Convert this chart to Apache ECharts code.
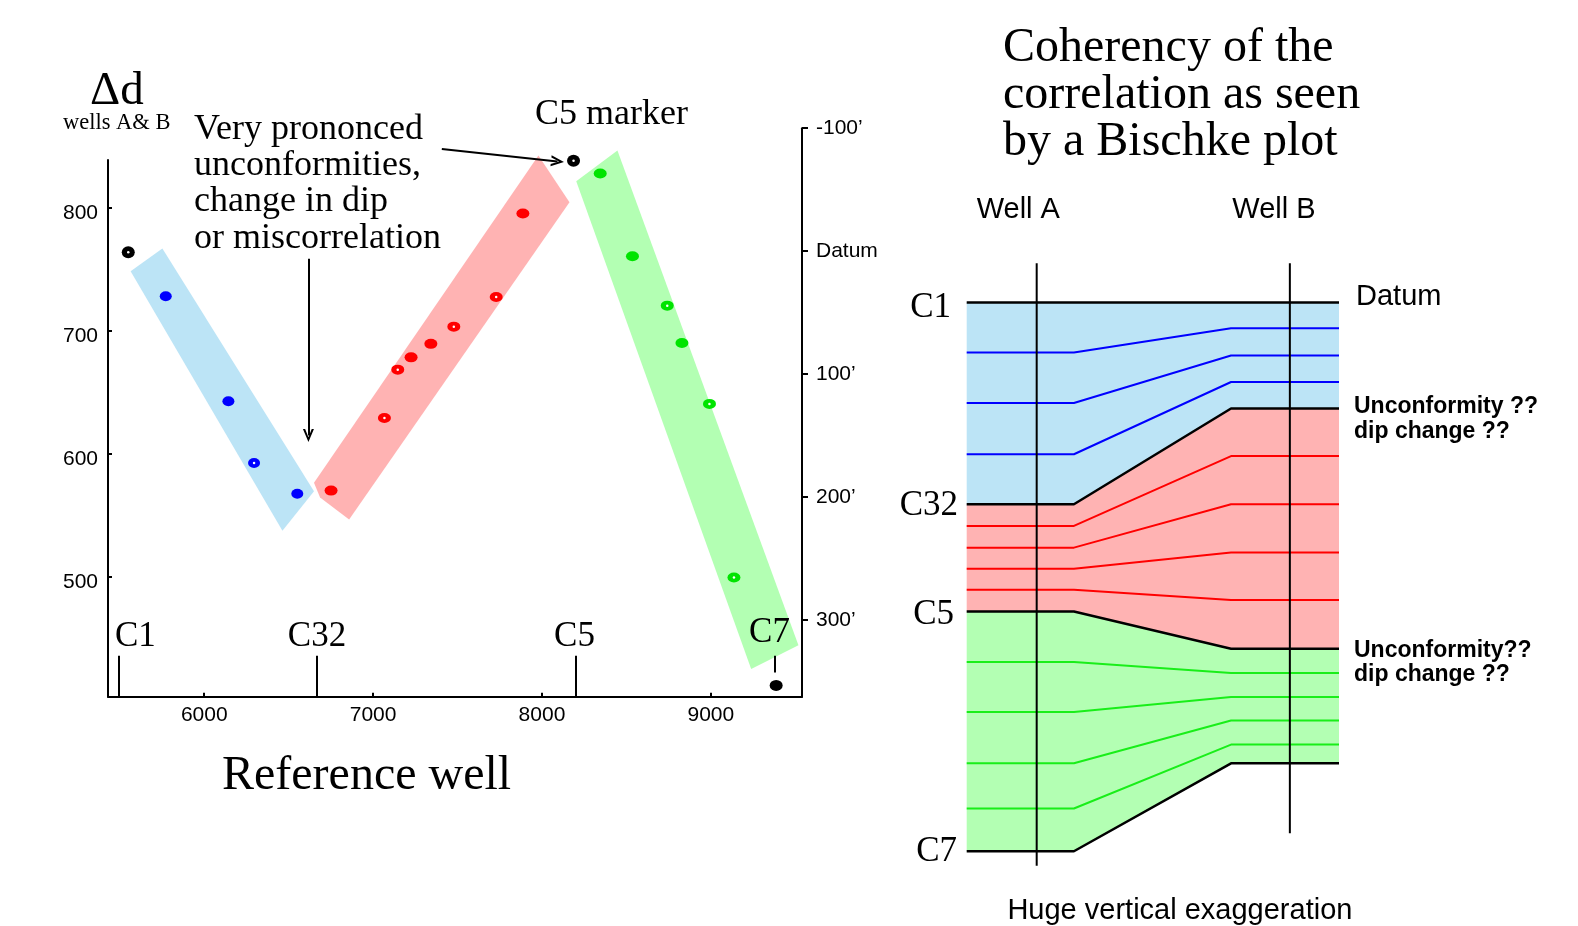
<!DOCTYPE html>
<html><head><meta charset="utf-8">
<script src="https://cdn.jsdelivr.net/npm/echarts@6/dist/echarts.min.js"></script>
<style>html,body{margin:0;padding:0;background:#fff}#c{width:1578px;height:926px}</style>
</head><body><div id="c"></div>
<script>
// ---------- Left panel: Bischke plot (reference well depth vs delta-d) ----------
const blueX  = [5772, 6143, 6295, 6551];
const blueY  = [728, 642.5, 592.3, 567.3];
const redX   = [6751, 7067, 7146, 7225, 7342, 7478, 7729, 7887];
const redY   = [569.8, 629, 668.3, 678.3, 689.3, 703.3, 727.5, 795.4];
const greenX = [8345, 8536, 8742, 8829, 8992, 9137];
const greenY = [828, 760.6, 720.4, 690, 640.4, 499];
// points drawn as rings (hollow centre) in the original
const blueRinged  = [2];
const redRinged   = [1, 2, 5, 6];
const greenRinged = [2, 4, 5];
const ringMarkerX = [5550, 8187];      // C1, C5 marker points
const ringMarkerY = [763.8, 838.3];
const c7PointX = [9387];
const c7PointY = [411.2];
const markerNames  = ['C1', 'C32', 'C5', 'C7'];
const markerX      = [5495, 6666, 8201, 9381];
const markerTop    = [435.4, 435.4, 435.4, 435.4];
const markerBottom = [402, 402, 402, 421.8];
const blueBand  = [[5564, 748.4], [5752, 766.9], [6650, 569.2], [6463, 537.2]];
const redBand   = [[6650, 576.3], [6686, 564.1], [6858, 546.2], [8163, 804.6], [7979, 842.6]];
const greenBand = [[8203, 821.7], [8447, 846.7], [9519, 443.8], [9239, 424.6]];
const arrowDown = [[6617, 758.7], [6617, 614.6]];
const arrowC5   = [[7407, 848], [8092, 837.9]];
const xTicks = [6000, 7000, 8000, 9000];
const yTicks = [500, 600, 700, 800];
const rightTicks = [-100, 0, 100, 200, 300];
const rightTickLabels = ['-100\u2019', 'Datum', '100\u2019', '200\u2019', '300\u2019'];

// ---------- Right panel: schematic correlation Well A / Well B ----------
const sectionX = [0, 28.8, 71, 100];
const horizonNames = ['C1','b1','b2','b3','C32','r1','r2','r3','r4','C5','g1','g2','g3','g4','C7'];
const horizonUnit  = ['top','blue','blue','blue','top','red','red','red','red','top','green','green','green','green','top'];
const horizonA = [6.5, 14.8, 23.2, 31.7, 40.0, 43.6, 47.2, 50.7, 54.2, 57.8, 66.2, 74.5, 83.0, 90.5, 97.6];
const horizonB = [6.5, 10.8, 15.3, 19.7, 24.1, 32.0, 40.0, 48.0, 55.9, 64.0, 68.0, 72.0, 75.9, 79.9, 83.0];
const wellNames = ['Well A', 'Well B'];
const wellX = [18.8, 86.8];
const wellBottom = [100, 94.6];

const SERIF = "'Liberation Serif','Times New Roman',serif";
const SANS = "'Liberation Sans',Arial,sans-serif";
const lineColor = {top: '#000000', blue: '#0000FF', red: '#FF0000', green: '#19EE19'};

const zip = (xs, ys) => xs.map((x, i) => [x, ys[i]]);
const pick = (xs, ys, idx) => idx.map(i => [xs[i], ys[i]]);
const horizonPts = i => sectionX.map((x, k) => [x, k < 2 ? horizonA[i] : horizonB[i]]);

function polyRenderer(polys, fills) {
  return function (params, api) {
    const pts = polys[params.dataIndex].map(p => api.coord(p));
    return {type: 'polygon', shape: {points: pts}, style: {fill: fills[params.dataIndex]}};
  };
}

const bands = [blueBand, redBand, greenBand];
const bandFills = ['#BCE4F6', '#FFB3B3', '#B3FFB3'];

const boundaryIdx = horizonNames.map((n, i) => horizonUnit[i] === 'top' ? i : -1).filter(i => i >= 0);
const unitPolys = [];
for (let k = 0; k < boundaryIdx.length - 1; k++) {
  const a = horizonPts(boundaryIdx[k]);
  const b = horizonPts(boundaryIdx[k + 1]).reverse();
  unitPolys.push(a.concat(b));
}
const unitFills = ['#BCE4F6', '#FFB3B3', '#B3FFB3'];

const chevron = 'path://M0,100 L50,0 L100,100 L80,100 L50,38 L20,100 Z';
const ringCentres = pick(blueX, blueY, blueRinged)
  .concat(pick(redX, redY, redRinged), pick(greenX, greenY, greenRinged), zip(ringMarkerX, ringMarkerY));

const series = [
  {type: 'custom', xAxisIndex: 0, yAxisIndex: 0, clip: false, z: 1,
   data: bands.map(b => b[0]), renderItem: polyRenderer(bands, bandFills)},
  {type: 'scatter', xAxisIndex: 0, yAxisIndex: 0, z: 3, symbolSize: [12, 10],
   itemStyle: {color: '#0000FF', opacity: 1}, data: zip(blueX, blueY)},
  {type: 'scatter', xAxisIndex: 0, yAxisIndex: 0, z: 3, symbolSize: [13, 10],
   itemStyle: {color: '#FF0000', opacity: 1}, data: zip(redX, redY)},
  {type: 'scatter', xAxisIndex: 0, yAxisIndex: 0, z: 3, symbolSize: [13, 10],
   itemStyle: {color: '#00E400', opacity: 1}, data: zip(greenX, greenY)},
  {type: 'scatter', xAxisIndex: 0, yAxisIndex: 0, z: 3, clip: false, symbolSize: [13, 12],
   itemStyle: {color: '#000', opacity: 1}, data: zip(ringMarkerX, ringMarkerY)},
  {type: 'scatter', xAxisIndex: 0, yAxisIndex: 0, z: 4, clip: false, symbolSize: 2.5,
   itemStyle: {color: '#fff', opacity: 1}, data: ringCentres},
  {type: 'scatter', xAxisIndex: 0, yAxisIndex: 0, z: 3, symbolSize: [13, 11],
   itemStyle: {color: '#000', opacity: 1}, data: zip(c7PointX, c7PointY)},
  {type: 'line', xAxisIndex: 0, yAxisIndex: 0, data: [], clip: false, z: 4,
   markLine: {silent: true, animation: false, symbol: ['none', 'none'],
     lineStyle: {color: '#000', width: 2, type: 'solid'}, label: {show: false},
     data: markerNames.map((n, i) => [{coord: [markerX[i], markerTop[i]]}, {coord: [markerX[i], markerBottom[i]]}])}},
  {type: 'line', xAxisIndex: 3, yAxisIndex: 3, data: [], clip: false, z: 4,
   markLine: {silent: true, animation: false, symbol: ['none', chevron], symbolSize: [11, 13],
     lineStyle: {color: '#000', width: 2, type: 'solid'}, label: {show: false},
     data: [[{coord: arrowDown[0]}, {coord: arrowDown[1]}], [{coord: arrowC5[0]}, {coord: arrowC5[1]}]]}},
  // right diagram fills
  {type: 'custom', xAxisIndex: 2, yAxisIndex: 2, z: 1,
   data: unitPolys.map(p => p[0]), renderItem: polyRenderer(unitPolys, unitFills)}
];
horizonNames.forEach((n, i) => {
  const u = horizonUnit[i];
  series.push({type: 'line', name: n, xAxisIndex: 2, yAxisIndex: 2, z: u === 'top' ? 4 : 3,
    showSymbol: false, symbol: 'none', animation: false, silent: true,
    lineStyle: {color: lineColor[u], width: u === 'top' ? 2.5 : 2}, data: horizonPts(i)});
});
wellNames.forEach((n, i) => {
  series.push({type: 'line', name: n, xAxisIndex: 2, yAxisIndex: 2, z: 5, showSymbol: false, symbol: 'none',
    animation: false, silent: true, lineStyle: {color: '#000', width: 2},
    data: [[wellX[i], 0], [wellX[i], wellBottom[i]]]});
});

function txt(x, y, text, font, align, valign, extra) {
  return {type: 'text', x: x, y: y, z: 100, silent: true,
    style: Object.assign({text: text, font: font, fill: '#000',
      align: align || 'left', verticalAlign: valign || 'middle'}, extra || {})};
}
const serif = s => s + 'px ' + SERIF;
const sans = s => s + 'px ' + SANS;

const graphic = [
  txt(90, 92, '\u0394d', serif(47)),
  txt(63, 123, 'wells A& B', serif(22.5)),
  txt(194, 111, 'Very prononced\nunconformities,\nchange in dip\nor miscorrelation', serif(36), 'left', 'top', {lineHeight: 36.3}),
  txt(535, 115, 'C5 marker', serif(36)),
  txt(115, 637, 'C1', serif(35)),
  txt(317, 637, 'C32', serif(35), 'center'),
  txt(574.5, 637, 'C5', serif(35), 'center'),
  txt(769.5, 633, 'C7', serif(35), 'center'),
  txt(222, 776, 'Reference well', serif(48)),
  txt(1003, 24.5, 'Coherency of the\ncorrelation as seen\nby a Bischke plot', serif(48), 'left', 'top', {lineHeight: 47}),
  txt(1018.3, 209.5, 'Well A', sans(29), 'center'),
  txt(1274, 209.5, 'Well B', sans(29), 'center'),
  txt(1356, 297, 'Datum', sans(29)),
  txt(951, 308, 'C1', serif(35), 'right'),
  txt(958, 506, 'C32', serif(35), 'right'),
  txt(954, 615, 'C5', serif(35), 'right'),
  txt(957, 852, 'C7', serif(35), 'right'),
  txt(1354, 394.5, 'Unconformity ??\ndip change ??', 'bold 23px ' + SANS, 'left', 'top', {lineHeight: 25}),
  txt(1354, 639, 'Unconformity??\ndip change ??', 'bold 23px ' + SANS, 'left', 'top', {lineHeight: 24}),
  txt(1007.4, 911, 'Huge vertical exaggeration', sans(29))
];

const axLine = {show: true, onZero: false, lineStyle: {color: '#000', width: 2}};
const option = {
  animation: false,
  backgroundColor: '#fff',
  grid: [
    {left: 108, top: 160, width: 694, height: 536.7},
    {left: 108, top: 128.2, width: 694, height: 568.5},
    {left: 966.7, top: 263.3, width: 372.3, height: 602.4},
    {left: 108, top: 100, width: 694, height: 596.7}
  ],
  xAxis: [
    {type: 'value', gridIndex: 0, min: 5430, max: 9540, axisLine: axLine,
     axisTick: {show: true, inside: true, length: 4, lineStyle: {color: '#000', width: 2}, customValues: xTicks},
     axisLabel: {customValues: xTicks, color: '#000', fontSize: 21, fontFamily: SANS, margin: 8,
       formatter: v => String(v)},
     splitLine: {show: false}},
    {type: 'value', gridIndex: 1, min: 5430, max: 9540, show: false},
    {type: 'value', gridIndex: 2, min: 0, max: 100, show: false},
    {type: 'value', gridIndex: 3, min: 5430, max: 9540, show: false}
  ],
  yAxis: [
    {type: 'value', gridIndex: 0, min: 402, max: 839, axisLine: axLine,
     axisTick: {show: true, inside: true, length: 4, lineStyle: {color: '#000', width: 2}, customValues: yTicks},
     axisLabel: {customValues: yTicks, color: '#000', fontSize: 21, fontFamily: SANS, margin: 10,
       verticalAlign: 'top', lineHeight: 11},
     splitLine: {show: false}},
    {type: 'value', gridIndex: 1, position: 'right', inverse: true, min: -100, max: 362.3, axisLine: axLine,
     axisTick: {show: true, inside: false, length: 6, lineStyle: {color: '#000', width: 2}, customValues: rightTicks},
     axisLabel: {customValues: rightTicks, color: '#000', fontSize: 21, fontFamily: SANS, margin: 14,
       formatter: v => rightTickLabels[rightTicks.indexOf(v)] || ''},
     splitLine: {show: false}},
    {type: 'value', gridIndex: 2, min: 0, max: 100, inverse: true, show: false},
    {type: 'value', gridIndex: 3, min: 402, max: 887.9, show: false}
  ],
  series: series,
  graphic: graphic
};
const chart = echarts.init(document.getElementById('c'), null, {renderer: 'canvas'});
chart.setOption(option);
</script></body></html>
